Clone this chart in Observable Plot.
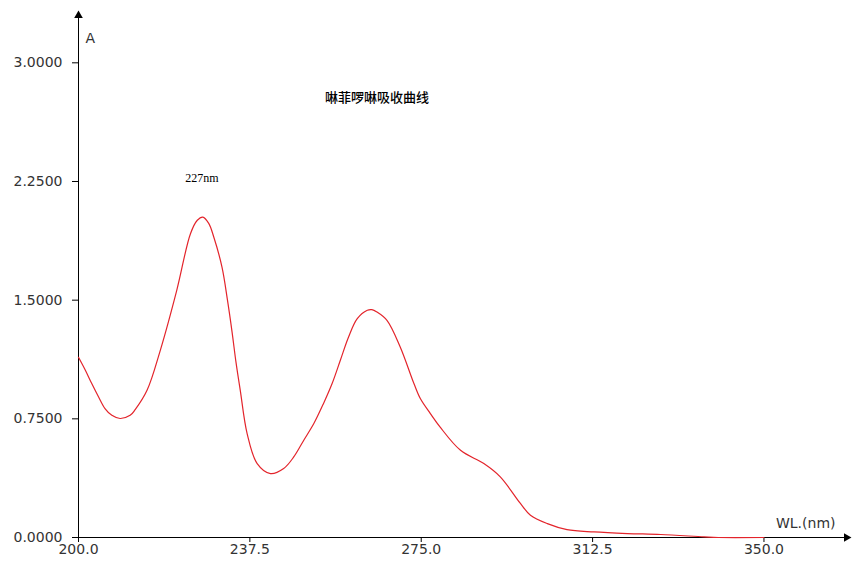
<!DOCTYPE html>
<html>
<head>
<meta charset="utf-8">
<script src="https://cdn.jsdelivr.net/npm/d3@7"></script>
<script src="https://cdn.jsdelivr.net/npm/@observablehq/plot@0.6"></script>
<style>
  html, body { margin: 0; padding: 0; background: #fff; }
</style>
</head>
<body>
<div id="chart"></div>
<script>
// Wavelength (nm) and absorbance (A)
const wavelength = [200, 201.5, 202.9, 204.4, 205.8, 207.3, 209.1, 211.3, 212.4, 215.0, 217.9, 221.5, 224.5, 226.0, 227.2, 228.5, 229.6, 231.4, 232.6, 233.6, 234.5, 235.4, 236.9, 239.1, 242.0, 244.9, 247.1, 249.3, 251.5, 253.6, 255.5, 257.3, 259.1, 261.0, 263.2, 264.2, 265.3, 267.5, 270.4, 273.4, 274.8, 277.0, 279.1, 283.6, 288.7, 292.3, 296.7, 298.9, 302.6, 306.9, 312.8, 320.1, 327.4, 336.9, 340.0, 350.0];
const absorbance = [1.139, 1.057, 0.973, 0.888, 0.815, 0.772, 0.752, 0.772, 0.808, 0.930, 1.183, 1.562, 1.920, 2.005, 2.025, 1.985, 1.899, 1.709, 1.500, 1.300, 1.100, 0.930, 0.657, 0.467, 0.404, 0.436, 0.509, 0.615, 0.720, 0.846, 0.973, 1.120, 1.267, 1.383, 1.436, 1.440, 1.425, 1.372, 1.204, 0.973, 0.878, 0.783, 0.699, 0.551, 0.467, 0.383, 0.215, 0.141, 0.088, 0.050, 0.035, 0.025, 0.019, 0.004, 0.0, 0.0];

const xTicks = [200, 237.5, 275, 312.5, 350];
const yTicks = [0, 0.75, 1.5, 2.25, 3.0];
const xDomain = [200, 368.5];
const yDomain = [0, 3.318];

const titleText = ["啉菲啰啉吸收曲线"];
const titleX = [265.3];
const titleY = [2.78];
const peakLabel = ["227nm"];
const peakX = [227];
const peakY = [2.27];

const data = wavelength.map((w, i) => ({w, a: absorbance[i]}));

const chart = Plot.plot({
  width: 854,
  height: 564,
  marginLeft: 78,
  marginRight: 6,
  marginTop: 12,
  marginBottom: 27,
  style: {fontFamily: "DejaVu Sans, Verdana, sans-serif", fontSize: "14px", color: "#333", background: "#fff"},
  x: {domain: xDomain, label: null},
  y: {domain: yDomain, label: null},
  marks: [
    Plot.axisX({ticks: xTicks, tickFormat: d3.format(".1f"), tickSize: 5, tickPadding: 2, stroke: "#000", fontSize: 14}),
    Plot.axisY({ticks: yTicks, tickFormat: d3.format(".4f"), tickSize: 6, tickPadding: 10, stroke: "#000", fontSize: 14}),
    Plot.ruleY([yDomain[0]], {stroke: "#000", strokeWidth: 1}),
    Plot.ruleX([xDomain[0]], {stroke: "#000", strokeWidth: 1}),
    Plot.dot([{x: xDomain[1], y: yDomain[0]}], {x: "x", y: "y", symbol: "triangle", rotate: 90, r: 3.2, fill: "#000", stroke: "none", dx: -2}),
    Plot.dot([{x: xDomain[0], y: yDomain[1]}], {x: "x", y: "y", symbol: "triangle", r: 3.2, fill: "#000", stroke: "none", dy: 3}),
    Plot.line(data, {x: "w", y: "a", stroke: "#e3242b", strokeWidth: 1.2, curve: "catmull-rom"}),
    Plot.text(titleText, {x: (d, i) => titleX[i], y: (d, i) => titleY[i], text: d => d, fontFamily: "Noto Sans CJK SC", fontSize: 13, fontWeight: 500, fill: "#000"}),
    Plot.text(peakLabel, {x: (d, i) => peakX[i], y: (d, i) => peakY[i], text: d => d, fontFamily: "Liberation Serif, serif", fontSize: 12, fill: "#000"}),
    Plot.text(["A"], {frameAnchor: "top-left", dx: 7, dy: 21, textAnchor: "start", fontSize: 14, fill: "#333"}),
    Plot.text(["WL.(nm)"], {frameAnchor: "bottom-right", dx: -13, dy: -10, textAnchor: "end", fontSize: 14, fill: "#333"})
  ]
});
document.getElementById("chart").appendChild(chart);
</script>
</body>
</html>
